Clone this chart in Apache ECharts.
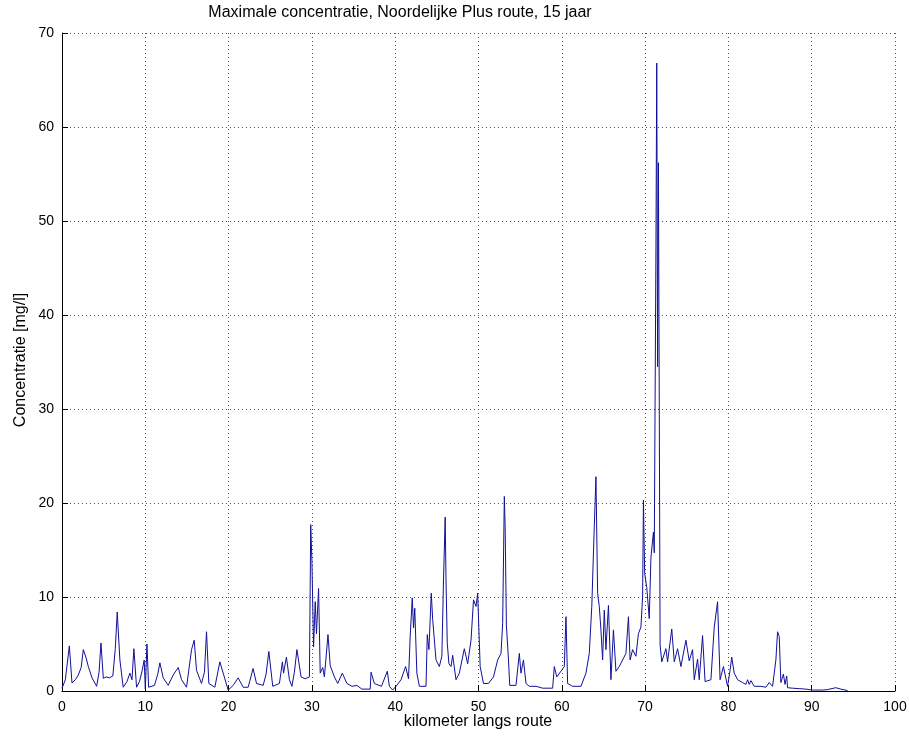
<!DOCTYPE html>
<html>
<head>
<meta charset="utf-8">
<script src="https://cdn.jsdelivr.net/npm/echarts@6/dist/echarts.min.js"></script>
<style>
html,body{margin:0;padding:0;background:#fff;}
#chart{width:909px;height:738px;}
</style>
</head>
<body>
<div id="chart"></div>
<script>
var titleText = 'Maximale concentratie, Noordelijke Plus route, 15 jaar';
var xAxisName = 'kilometer langs route';
var yAxisName = 'Concentratie [mg/l]';
var xTicks = [0, 10, 20, 30, 40, 50, 60, 70, 80, 90, 100];
var yTicks = [0, 10, 20, 30, 40, 50, 60, 70];

var km = [
0.0,0.4,0.88,1.2,1.6,1.96,2.3,2.56,2.9,3.16,3.6,4.16,4.45,4.68,4.96,5.3,5.7,6.1,6.4,6.63,6.95,7.35,7.8,8.15,8.4,8.63,8.95,9.3,9.63,9.87,
10.0,10.2,10.4,11.1,11.5,11.75,12.15,12.75,13.35,13.95,14.35,14.95,15.55,15.87,16.15,16.75,17.1,17.35,17.63,18.35,18.95,19.35,19.95,
20.55,21.15,21.75,22.35,22.94,23.35,24.15,24.5,24.83,25.3,26.1,26.46,26.6,26.94,27.3,27.6,27.9,28.2,28.7,29.2,29.7,29.86,
30.0,30.2,30.4,30.55,30.8,31.0,31.3,31.5,31.93,32.2,32.7,33.1,33.65,34.2,34.8,35.4,36.0,37.0,37.1,37.5,38.35,39.05,39.3,39.7,
40.1,40.7,41.25,41.6,41.8,42.05,42.2,42.35,42.6,42.9,43.7,43.85,44.05,44.33,44.5,44.9,45.3,45.6,45.8,46.0,46.1,46.25,46.45,46.7,46.9,47.3,47.7,48.3,48.7,49.1,49.4,49.7,49.9,
50.2,50.6,51.2,51.8,52.3,52.7,52.9,53.1,53.2,53.35,53.6,53.75,54.5,54.9,55.1,55.4,55.7,56.1,56.9,57.7,58.9,59.1,59.4,59.9,
60.3,60.5,60.7,61.3,62.3,62.9,63.3,63.6,63.9,64.1,64.3,64.5,64.7,64.9,65.1,65.3,65.6,65.9,66.2,66.5,66.9,67.3,67.7,68.0,68.2,68.5,68.9,69.2,69.5,69.7,69.8,69.95,
70.2,70.5,70.7,71.0,71.1,71.3,71.4,71.5,71.6,71.8,72.0,72.5,72.7,73.2,73.5,73.9,74.3,74.9,75.3,75.7,75.9,76.3,76.5,76.9,77.2,77.9,78.3,78.7,79.0,79.4,79.9,
80.2,80.4,80.7,81.1,81.7,82.1,82.3,82.5,82.7,83.1,83.9,84.5,84.9,85.3,85.7,85.9,86.1,86.3,86.6,86.8,87.0,87.1,87.7,88.5,89.3,
90.1,91.3,91.9,92.9,93.5,94.3
];
var conc = [
0.3,1.2,4.8,0.85,1.2,1.7,2.5,4.4,3.5,2.6,1.4,0.5,2.0,5.1,1.35,1.5,1.4,1.6,4.5,8.4,3.3,0.4,1.0,1.9,1.2,4.5,0.4,1.0,2.2,3.3,
0.2,5.0,0.4,0.6,1.8,3.0,1.4,0.6,1.7,2.5,1.2,0.4,4.4,5.4,2.2,0.8,2.0,6.3,0.8,0.4,3.1,1.9,0.1,
0.6,1.4,0.4,0.4,2.4,0.8,0.6,1.8,4.2,0.5,0.8,3.1,1.9,3.6,1.2,0.5,2.0,4.4,1.5,1.3,1.5,17.7,
13.9,4.7,9.5,6.1,10.9,1.9,2.5,1.5,6.0,2.7,1.5,0.8,1.9,0.8,0.5,0.6,0.2,0.2,2.0,0.8,0.5,2.1,0.5,0.1,
0.5,1.2,2.6,1.3,5.8,9.9,6.7,8.8,1.9,0.5,0.5,6.0,4.4,10.4,7.6,3.3,2.6,3.7,11.8,18.5,11.8,5.1,2.9,2.6,3.8,1.2,1.9,4.5,2.9,5.4,9.7,9.0,10.4,
2.6,0.8,0.8,1.5,3.3,4.0,7.2,20.7,17.5,7.0,3.3,0.6,0.6,4.0,1.9,3.3,0.8,0.5,0.5,0.3,0.3,2.6,1.5,2.1,
2.6,7.9,0.8,0.5,0.5,1.9,4.0,9.0,17.5,22.8,10.4,9.0,6.5,3.3,8.6,4.4,9.1,1.2,6.5,2.1,2.6,3.3,4.0,7.9,3.3,4.4,3.7,6.1,6.8,10.0,20.3,12.5,
11.0,7.7,14.2,16.9,14.7,46.9,66.8,34.5,56.2,4.9,3.1,4.5,3.1,6.6,3.1,4.5,2.6,5.4,3.2,4.4,1.2,3.4,1.2,5.9,1.0,1.2,6.8,9.5,1.2,2.6,0.5,
2.2,3.6,1.9,1.2,0.9,0.7,1.2,0.7,1.1,0.5,0.5,0.4,0.9,0.5,3.3,6.3,5.8,0.9,1.8,0.7,1.6,0.35,0.3,0.25,0.2,
0.1,0.1,0.15,0.35,0.2,0.05
];

var data = km.map(function (k, i) { return [k, conc[i]]; });
var FONT = '"Liberation Sans", Arial, Helvetica, sans-serif';

var chart = echarts.init(document.getElementById('chart'), null, {renderer: 'canvas'});
var axisCommon = {
  axisLine: {show: true, lineStyle: {color: '#000', width: 1}},
  axisTick: {show: true, inside: true, length: 6, lineStyle: {color: '#000'}},
  axisLabel: {color: '#000', fontSize: 14, fontFamily: FONT, margin: 9},
  splitLine: {show: true, lineStyle: {color: '#555', width: 1, type: [1, 3]}}
};
chart.setOption({
  animation: false,
  backgroundColor: '#fff',
  grid: {left: 62, right: 14, top: 33, bottom: 47, containLabel: false, outerBoundsMode: 'none'},
  xAxis: Object.assign({
    type: 'value', min: xTicks[0], max: xTicks[xTicks.length - 1], interval: 10
  }, axisCommon),
  yAxis: Object.assign({
    type: 'value', min: yTicks[0], max: yTicks[yTicks.length - 1], interval: 10
  }, Object.assign({}, axisCommon, {axisLabel: {color: '#000', fontSize: 14, fontFamily: FONT, margin: 8}})),
  graphic: [
    {type: 'text', x: 400, y: 13, style: {text: titleText, fill: '#000', font: '16px ' + FONT, textAlign: 'center', textVerticalAlign: 'middle', align: 'center', verticalAlign: 'middle'}},
    {type: 'text', x: 478, y: 722, style: {text: xAxisName, fill: '#000', font: '16px ' + FONT, textAlign: 'center', textVerticalAlign: 'middle', align: 'center', verticalAlign: 'middle'}},
    {type: 'text', x: 21, y: 360, rotation: Math.PI / 2, style: {text: yAxisName, fill: '#000', font: '16px ' + FONT, textAlign: 'center', textVerticalAlign: 'middle', align: 'center', verticalAlign: 'middle'}}
  ],
  series: [{
    type: 'line',
    data: data,
    showSymbol: false,
    symbol: 'none',
    lineStyle: {color: '#101098', width: 1},
    itemStyle: {color: '#101098'}
  }]
});
</script>
</body>
</html>
